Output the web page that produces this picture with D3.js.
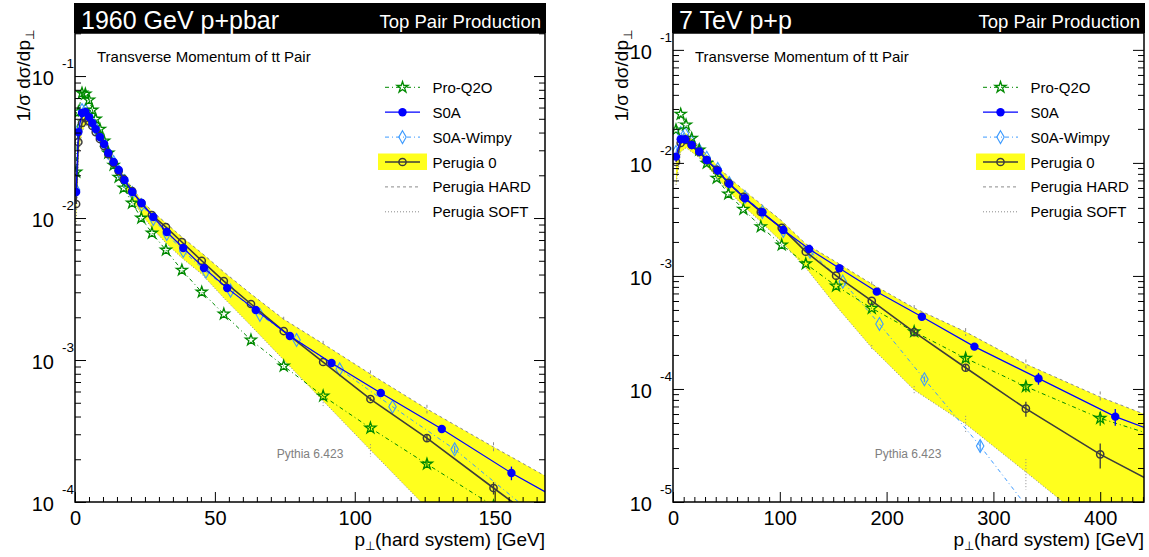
<!DOCTYPE html>
<html><head><meta charset="utf-8">
<script src="https://cdn.jsdelivr.net/npm/d3@7"></script>
<style>
body{margin:0;background:#fff}
text{font-family:"Liberation Sans",Arial,Helvetica,sans-serif}
</style>
</head><body>
<svg id="c" width="1149" height="557" xmlns="http://www.w3.org/2000/svg"></svg>
<script>
// ---------------- DATA: left panel (1960 GeV p+pbar) ----------------
const leftP = [0.4,1.2,2.5,3.7,5.0,6.2,7.4,8.9,10.4,11.9,13.8,15.6,17.4,20.4,23.7,27.5,32.5,38.2,45.3,53.2,62.9,74.6,88.7,105.6,125.8,149.6,177];
const leftProQ2O = [0.0211,0.0558,0.0759,0.0747,0.0678,0.0576,0.0498,0.0423,0.0349,0.0287,0.0236,0.0194,0.01627,0.01275,0.0100,0.00784,0.00595,0.00430,0.00301,0.00211,0.001383,0.000907,0.000558,0.000332,0.000185,0.0000938,0.0000440];
const leftProQ2OErr = [0,0,0,0,0,0,0,0,0,0,0,0,0,0,0,0,0,0,0,0,0,0,0,0.03,0.05,0,0];
const leftPerugia0 = [0.01255,0.0343,0.0467,0.0506,0.0482,0.0445,0.0403,0.0360,0.0321,0.0282,0.0244,0.0214,0.0188,0.0155,0.01275,0.0105,0.00864,0.00678,0.00500,0.00360,0.00248,0.00160,0.000968,0.000531,0.000282,0.0001255,0.0000498];
const leftPerugia0Err = [0,0,0,0,0,0,0,0,0,0,0,0,0,0,0,0,0,0,0,0,0,0,0,0.03,0.06,0.1,0];
const leftHard = [0.01339,0.0366,0.0498,0.0531,0.0506,0.0467,0.0423,0.0378,0.0337,0.0296,0.0256,0.0225,0.0198,0.0163,0.0134,0.0112,0.00922,0.00735,0.00567,0.00417,0.00292,0.00194,0.00130,0.000797,0.000452,0.000244,0.0001215];
const leftHardErr = [0,0,0,0,0,0,0,0,0,0,0,0,0,0,0,0,0,0,0,0,0,0.04,0.05,0.06,0.07,0.08,0];
const leftSoft = [0.00893,0.0278,0.0403,0.0452,0.0445,0.0417,0.0384,0.0343,0.0306,0.0265,0.0225,0.0194,0.0168,0.0134,0.0107,0.00850,0.00667,0.00523,0.00403,0.00273,0.00174,0.00100,0.000515,0.000232,0.0000907,0.0000306,0.0000100];
const leftSoftErr = [0,0,0,0,0,0,0,0,0,0,0,0,0,0,0,0,0,0,0,0,0,0,0.08,0.1,0,0,0];
const leftS0AP = [0.4,1.2,2.5,3.7,5.0,6.2,7.4,8.9,10.4,11.9,13.8,15.6,17.7,20.5,23.8,28.0,32.8,38.7,46.1,54.4,64.6,76.8,91.7,109.3,131.1,156.0,186];
const leftS0A = [0.01524,0.0403,0.0549,0.0558,0.0514,0.0467,0.0423,0.0372,0.0332,0.0287,0.0248,0.0218,0.0185,0.01524,0.01275,0.01016,0.00797,0.00615,0.00445,0.00321,0.00225,0.001476,0.000953,0.000586,0.000327,0.000160,0.0000747];
const leftS0AErr = [0,0,0,0,0,0,0,0,0,0,0,0,0,0,0,0,0,0,0,0,0,0,0,0,0.05,0.11,0];
const leftWimpyP = [0.4,1.2,2.5,3.7,5.0,6.2,7.4,8.9,10.4,11.9,13.8,15.6,17.7,20.5,23.8,28.0,32.8,38.7,46.8,55.6,66.1,79.2,94.6,113.5,135.7,162.5];
const leftWimpy = [0.01575,0.0417,0.0576,0.0576,0.0531,0.0474,0.0430,0.0378,0.0332,0.0287,0.0248,0.0214,0.0182,0.0150,0.01234,0.00984,0.00772,0.00586,0.00419,0.00308,0.00208,0.001383,0.000860,0.000469,0.000235,0.0000864];
const leftWimpyErr = [0,0,0,0,0,0,0,0,0,0,0,0,0,0,0,0,0,0,0,0,0,0,0,0,0.06,0];
const leftXTicks = [0,50,100,150];

// ---------------- DATA: right panel (7 TeV p+p) ----------------
const rightP = [2.8,7.2,12.2,17.5,24.6,31.6,40.9,51.8,65.9,82.2,101.8,124.3,152.7,186.1,225.8,274.0,330.4,400.0,484.3];
const rightProQ2O = [0.0196,0.0270,0.0217,0.0165,0.0130,0.00994,0.00733,0.00532,0.00389,0.00273,0.00188,0.00128,0.000815,0.000518,0.000321,0.000187,0.000105,0.0000550,0.0000307];
const rightProQ2OErr = [0,0,0,0,0,0,0,0,0,0,0,0,0,0,0.04,0.08,0.11,0.14,0];
const rightPerugia0 = [0.0102,0.0150,0.0160,0.0144,0.0125,0.0106,0.00867,0.00665,0.00500,0.00368,0.00266,0.00164,0.001006,0.000601,0.000318,0.000154,0.0000669,0.0000264,0.0000101];
const rightPerugia0Err = [0,0,0,0,0,0,0,0,0,0,0,0,0,0,0.04,0.08,0.15,0.25,0];
const rightHard = [0.0111,0.0173,0.0184,0.0163,0.0139,0.0118,0.00960,0.00752,0.00577,0.00434,0.00307,0.00192,0.00133,0.000849,0.000521,0.000320,0.000166,0.0000849,0.0000416];
const rightHardErr = [0,0,0,0,0,0,0,0,0,0,0,0,0,0.05,0.06,0.08,0.1,0.12,0];
const rightSoft = [0.00639,0.0125,0.0136,0.0125,0.0111,0.00941,0.00752,0.00565,0.00416,0.00301,0.00200,0.00118,0.000543,0.000231,0.0000980,0.0000490,0.0000184,0.00000543,0.00000136];
const rightSoftErr = [0,0,0,0,0,0,0,0,0,0,0,0,0,0.06,0.08,0.18,0.3,0,0];
const rightS0AP = [2.8,7.2,11.2,17.5,24.6,31.6,41.9,52.7,67.4,83.7,103.3,127.4,155.8,190.8,233.0,282.2,342.2,414.1,503];
const rightS0A = [0.01137,0.0162,0.0162,0.0144,0.0126,0.0106,0.00855,0.00652,0.00487,0.00366,0.00255,0.00173,0.00117,0.000726,0.000436,0.000237,0.000124,0.0000569,0.0000277];
const rightS0AErr = [0,0,0,0,0,0,0,0,0,0,0,0,0,0,0,0.05,0.12,0.17,0];
const rightWimpyP = [2.8,7.2,11.2,17.5,24.6,31.6,41.9,52.7,67.4,83.7,103.3,128.3,159.0,193.3,235.4,287.6,343.8];
const rightWimpy = [0.0125,0.0184,0.0181,0.0153,0.0130,0.0111,0.00885,0.00665,0.00500,0.00368,0.00250,0.00164,0.000890,0.000376,0.000122,0.0000313,0.00000639];
const rightWimpyErr = [0,0,0,0,0,0,0,0,0,0,0,0,0,0,0.06,0.12,0];
const rightXTicks = [0,100,200,300,400];

const legendLabels = ["Pro-Q2O","S0A","S0A-Wimpy","Perugia 0","Perugia HARD","Perugia SOFT"];

// ---------------- STYLE ----------------
const YELLOW = "#ffff1e";
const C_GREEN = "#008a00", C_BLUE = "#0000ff", C_LBLUE = "#3d9bff", C_P0 = "#3c3c3c", C_GRAY = "#8a8a8a";
const TOP = 33, BOT = 502;
const svg = d3.select("#c");

function styleFor(name){
  switch(name){
    case "Pro-Q2O": return {color:C_GREEN, width:1, dash:"4,3,1,3", marker:"star"};
    case "S0A": return {color:C_BLUE, width:1.2, dash:null, marker:"dot"};
    case "S0A-Wimpy": return {color:C_LBLUE, width:1, dash:"4,3,1,3", marker:"diamond"};
    case "Perugia 0": return {color:C_P0, width:1.6, dash:null, marker:"ocircle"};
    case "Perugia HARD": return {color:C_GRAY, width:1, dash:"3,3", marker:null};
    case "Perugia SOFT": return {color:C_GRAY, width:1, dash:"1,2", marker:null};
  }
}

function drawMarker(g, type, cx, cy, color){
  if(type==="star"){
    g.append("path").attr("d", d3.symbol(d3.symbolStar, 38)()).attr("transform",`translate(${cx},${cy})`)
      .attr("fill","none").attr("stroke",color).attr("stroke-width",1.3);
  } else if(type==="diamond"){
    g.append("path").attr("d", d3.symbol(d3.symbolDiamond, 48)()).attr("transform",`translate(${cx},${cy})`)
      .attr("fill","none").attr("stroke",color).attr("stroke-width",1.1);
  } else if(type==="dot"){
    g.append("circle").attr("cx",cx).attr("cy",cy).attr("r",4.2).attr("fill",color);
  } else if(type==="ocircle"){
    g.append("circle").attr("cx",cx).attr("cy",cy).attr("r",3.6).attr("fill","none").attr("stroke",color).attr("stroke-width",1.5);
  }
}

function drawPanel(c){
  const g = svg.append("g");
  const x = d3.scaleLinear().domain([0,c.xmax]).range([c.x0,c.x1]);
  const y = d3.scaleLog().domain([c.ymin,c.ymax]).range([BOT,TOP]);
  const clipId = "clip"+c.id;
  svg.append("clipPath").attr("id",clipId).append("rect")
    .attr("x",c.x0).attr("y",TOP).attr("width",c.x1-c.x0).attr("height",BOT-TOP);
  const pg = g.append("g").attr("clip-path",`url(#${clipId})`);

  // yellow band between HARD and SOFT
  const band = c.bandP.map((p,i)=>({p:p, hi:c.hard[i], lo:c.soft[i]}));
  pg.append("path").datum(band)
    .attr("d", d3.area().x(d=>x(d.p)).y0(d=>y(d.lo)).y1(d=>y(d.hi)))
    .attr("fill", YELLOW);

  const series = [
    {name:"Perugia HARD", p:c.bandP, v:c.hard, e:c.hardErr},
    {name:"Perugia SOFT", p:c.bandP, v:c.soft, e:c.softErr},
    {name:"S0A-Wimpy", p:c.wimpyP, v:c.wimpy, e:c.wimpyErr},
    {name:"Pro-Q2O", p:c.bandP, v:c.proq2o, e:c.proq2oErr},
    {name:"Perugia 0", p:c.bandP, v:c.p0, e:c.p0Err},
    {name:"S0A", p:c.s0aP, v:c.s0a, e:c.s0aErr}
  ];
  series.forEach(s=>{
    const st = styleFor(s.name);
    const pts = s.p.map((p,i)=>({p:p, v:s.v[i], e:s.e[i]}));
    pg.append("path").datum(pts)
      .attr("d", d3.line().x(d=>x(d.p)).y(d=>y(d.v)))
      .attr("fill","none").attr("stroke",st.color).attr("stroke-width",st.width)
      .attr("stroke-dasharray",st.dash);
    pts.forEach(d=>{
      if(d.e>0){
        pg.append("line").attr("x1",x(d.p)).attr("x2",x(d.p))
          .attr("y1",y(d.v*(1+d.e))).attr("y2",y(d.v*(1-d.e)))
          .attr("stroke",st.color).attr("stroke-width",st.marker?1.3:1)
          .attr("stroke-dasharray", st.marker?null:st.dash);
      }
    });
    if(st.marker){
      pts.forEach(d=>drawMarker(pg, st.marker, x(d.p), y(d.v), st.color));
    }
  });

  // ---- axes ----
  const fixAxis = sel => { sel.select(".domain").remove(); sel.selectAll("line").attr("stroke","#000").attr("stroke-width",1); };
  const xMinor = d3.range(c.xMinorStep, c.xmax, c.xMinorStep).filter(v=>Math.abs(v % c.xTicks[1])>1e-6);
  g.append("g").attr("transform",`translate(0,${BOT})`)
    .call(d3.axisBottom(x).tickValues(xMinor).tickSize(-5).tickFormat("")).call(fixAxis);
  const xa = g.append("g").attr("transform",`translate(0,${BOT})`)
    .call(d3.axisBottom(x).tickValues(c.xTicks).tickSize(-10).tickPadding(9).tickFormat(d3.format("d")));
  fixAxis(xa);
  xa.selectAll("text").attr("font-size",20).attr("fill","#000").attr("font-family","Liberation Sans, Arial, sans-serif");

  const lo = Math.round(Math.log10(c.ymin)), hi = Math.floor(Math.log10(c.ymax));
  const decades = d3.range(lo, hi+1).map(k=>Math.pow(10,k));
  const yMinor = [];
  d3.range(lo, hi+1).forEach(k=>{ for(let m=2;m<=9;m++){ const v=m*Math.pow(10,k); if(v<c.ymax) yMinor.push(v);} });
  [[d3.axisLeft, c.x0],[d3.axisRight, c.x1]].forEach(([ax,px])=>{
    g.append("g").attr("transform",`translate(${px},0)`)
      .call(ax(y).tickValues(yMinor).tickSize(-6).tickFormat("")).call(fixAxis);
    g.append("g").attr("transform",`translate(${px},0)`)
      .call(ax(y).tickValues(decades).tickSize(-11).tickFormat("")).call(fixAxis);
  });
  decades.forEach(v=>{
    const ty = y(v), k = Math.round(Math.log10(v));
    g.append("text").attr("x",c.x0-21).attr("y",ty+9).attr("text-anchor","end")
      .attr("font-size",20).text("10");
    g.append("text").attr("x",c.x0-13).attr("y",ty-8).attr("text-anchor","start")
      .attr("font-size",13.5).text(String(k));
  });

  // frame
  g.append("rect").attr("x",c.x0).attr("y",TOP).attr("width",c.x1-c.x0).attr("height",BOT-TOP)
    .attr("fill","none").attr("stroke","#000").attr("stroke-width",1.5);

  // header
  g.append("rect").attr("x",c.x0-1).attr("y",3).attr("width",c.x1-c.x0+2).attr("height",TOP-3).attr("fill","#000");
  g.append("text").attr("x",c.x0+6).attr("y",29).attr("fill","#fff").attr("font-size",25).text(c.title);
  g.append("text").attr("x",c.x1-4).attr("y",28).attr("fill","#fff").attr("font-size",18.5)
    .attr("text-anchor","end").text("Top Pair Production");

  g.append("text").attr("x",c.x0+22).attr("y",62).attr("font-size",15).text("Transverse Momentum of tt Pair");
  g.append("text").attr("x",c.pythiaX).attr("y",458).attr("font-size",12).attr("fill","#808080")
    .attr("text-anchor","middle").text("Pythia 6.423");

  // axis titles
  const xt = g.append("text").attr("x",c.x1).attr("y",546).attr("text-anchor","end").attr("font-size",19);
  xt.append("tspan").text("p");
  xt.append("tspan").attr("font-size",12).attr("dy",4).text("\u22a5");
  xt.append("tspan").attr("dy",-4).text("(hard system) [GeV]");
  const yt = g.append("text").attr("transform",`translate(${c.x0-45},30) rotate(-90)`)
    .attr("text-anchor","end").attr("font-size",19);
  yt.append("tspan").text("1/\u03c3 d\u03c3/dp");
  yt.append("tspan").attr("font-size",12).attr("dy",4).text("\u22a5");

  // legend
  legendLabels.forEach((name,i)=>{
    const st = styleFor(name);
    const ly = 87.3 + 24.9*i, lx = c.legX;
    if(name==="Perugia 0"){
      g.append("rect").attr("x",lx-7).attr("y",ly-8.5).attr("width",49).attr("height",16.5).attr("fill",YELLOW);
    }
    g.append("line").attr("x1",lx).attr("x2",lx+35).attr("y1",ly).attr("y2",ly)
      .attr("stroke",st.color).attr("stroke-width",st.width).attr("stroke-dasharray",st.dash);
    if(st.marker) drawMarker(g, st.marker, lx+17.5, ly, st.color);
    g.append("text").attr("x",lx+47.5).attr("y",ly+5.5).attr("font-size",15).text(name);
  });
}

drawPanel({id:"L", title:"1960 GeV p+pbar", x0:75, x1:545, xmax:168, ymin:1e-4, ymax:0.201,
  xTicks:leftXTicks, xMinorStep:5, legX:385, pythiaX:310,
  bandP:leftP, hard:leftHard, hardErr:leftHardErr, soft:leftSoft, softErr:leftSoftErr,
  proq2o:leftProQ2O, proq2oErr:leftProQ2OErr, p0:leftPerugia0, p0Err:leftPerugia0Err,
  s0aP:leftS0AP, s0a:leftS0A, s0aErr:leftS0AErr, wimpyP:leftWimpyP, wimpy:leftWimpy, wimpyErr:leftWimpyErr});

drawPanel({id:"R", title:"7 TeV p+p", x0:673, x1:1144, xmax:441, ymin:1e-5, ymax:0.141,
  xTicks:rightXTicks, xMinorStep:10, legX:983, pythiaX:908,
  bandP:rightP, hard:rightHard, hardErr:rightHardErr, soft:rightSoft, softErr:rightSoftErr,
  proq2o:rightProQ2O, proq2oErr:rightProQ2OErr, p0:rightPerugia0, p0Err:rightPerugia0Err,
  s0aP:rightS0AP, s0a:rightS0A, s0aErr:rightS0AErr, wimpyP:rightWimpyP, wimpy:rightWimpy, wimpyErr:rightWimpyErr});
</script>
</body></html>
